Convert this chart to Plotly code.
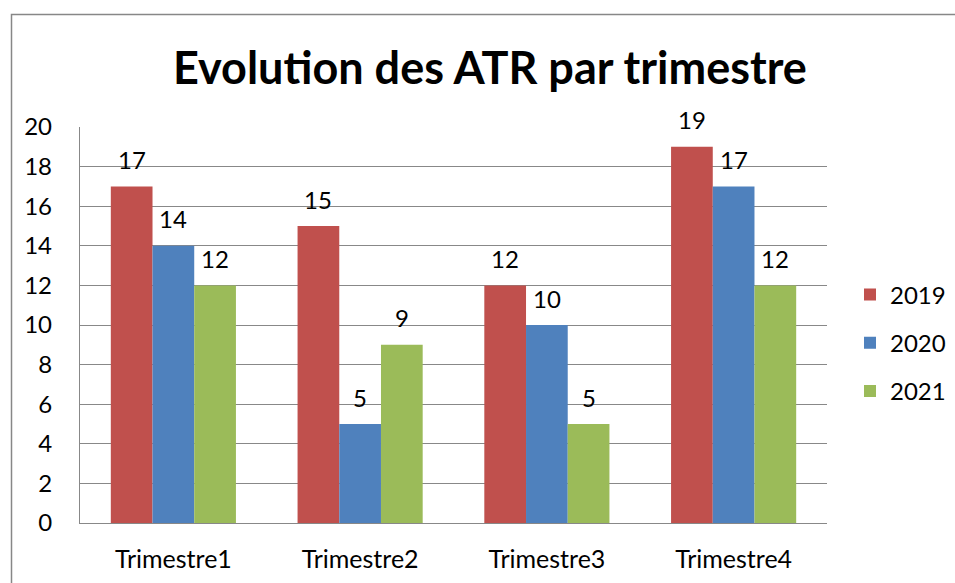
import plotly.graph_objects as go

categories = ["Trimestre1", "Trimestre2", "Trimestre3", "Trimestre4"]
series_names = ["2019", "2020", "2021"]
values_2019 = [17, 15, 12, 19]
values_2020 = [14, 5, 10, 17]
values_2021 = [12, 9, 5, 12]
colors = ["#C0504D", "#4F81BD", "#9BBB59"]
y_ticks = [0, 2, 4, 6, 8, 10, 12, 14, 16, 18, 20]

FONT = "Lato"
W, H = 955, 583
L, R, T, B = 80, 128, 127, 60

fig = go.Figure()
all_vals = [values_2019, values_2020, values_2021]
for name, vals, col in zip(series_names, all_vals, colors):
    fig.add_trace(go.Bar(
        x=categories, y=vals, name=name, marker=dict(color=col, line=dict(width=0)),
        legendgroup=name,
    ))

# data labels through axis scales
plot_w = W - L - R
bar_w = plot_w / 4 * (1 - 0.33) / 3
for i, vals in enumerate(all_vals):
    for c, v in zip(categories, vals):
        fig.add_annotation(x=c, y=v, text=str(v), showarrow=False,
                           xshift=(i - 1) * bar_w, yshift=27,
                           font=dict(family=FONT, size=24, color="#000"))

px_x = lambda p: (p - L) / plot_w
px_y = lambda p: (H - B - p) / (H - T - B)
fig.add_shape(type="rect", xref="paper", yref="paper",
              x0=px_x(11.5), y0=px_y(14.5), x1=px_x(970), y1=px_y(600),
              line=dict(color="#878787", width=1.5), layer="below")

fig.update_layout(
    width=W, height=H,
    margin=dict(l=L, r=R, t=T, b=B, autoexpand=False),
    paper_bgcolor="white", plot_bgcolor="white",
    barmode="group", bargap=0.33, bargroupgap=0,
    title=dict(text="<b>Evolution des ATR par trimestre</b>", x=0.513, xanchor="center",
               y=1 - 68 / H, yanchor="middle",
               font=dict(family=FONT, size=45, color="#000")),
    font=dict(family=FONT, size=24, color="#000"),
    legend=dict(x=px_x(850), xanchor="left", y=px_y(343), yanchor="middle",
                font=dict(family=FONT, size=24, color="#000"),
                tracegroupgap=14, bgcolor="rgba(0,0,0,0)"),
    showlegend=True,
)
fig.update_yaxes(range=[0, 20], tickvals=y_ticks, showgrid=True, gridcolor="#888888",
                 gridwidth=1.3, showline=True, linecolor="#888888", linewidth=1.3,
                 zeroline=False, ticks="", ticklabelstandoff=22,
                 tickfont=dict(family=FONT, size=24, color="#000"), fixedrange=True)
fig.update_xaxes(showline=True, linecolor="#888888", linewidth=1.3, ticks="",
                 ticklabelstandoff=14, tickfont=dict(family=FONT, size=25, color="#000"))

fig.write_html("out.html", config={"displayModeBar": False},
               post_script="document.body.style.margin='0';")
